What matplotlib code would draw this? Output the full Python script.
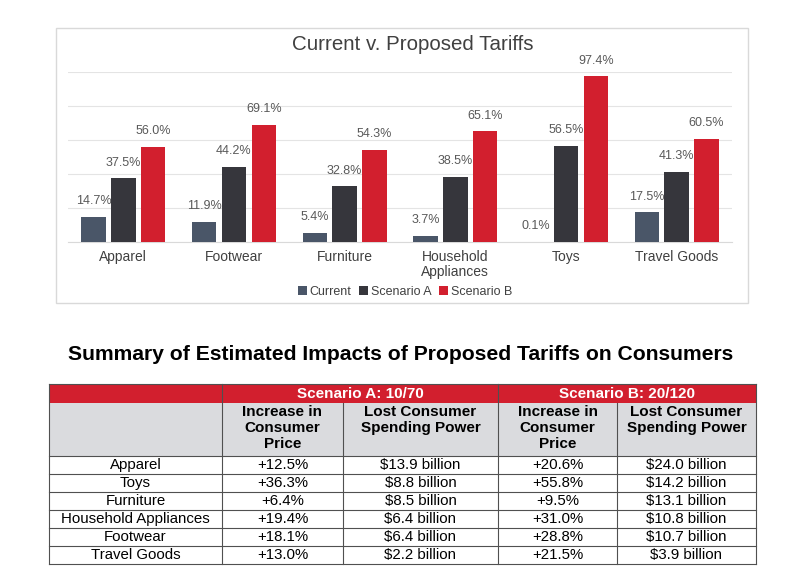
import numpy as np
import matplotlib
matplotlib.use('Agg')
from matplotlib import pyplot as plt
from matplotlib.patches import Rectangle

plt.rcParams['font.family'] = ['Liberation Sans', 'DejaVu Sans']

# chart data
categories = ['Apparel', 'Footwear', 'Furniture', 'Household\nAppliances', 'Toys', 'Travel Goods']
seriesNames = ['Current', 'Scenario A', 'Scenario B']
current = [14.7, 11.9, 5.4, 3.7, 0.1, 17.5]
scenarioA = [37.5, 44.2, 32.8, 38.5, 56.5, 41.3]
scenarioB = [56.0, 69.1, 54.3, 65.1, 97.4, 60.5]

# table data
tableTitle = 'Summary of Estimated Impacts of Proposed Tariffs on Consumers'
scenarioHeaders = ['Scenario A: 10/70', 'Scenario B: 20/120']
columnHeaders = ['Increase in\nConsumer\nPrice', 'Lost Consumer\nSpending Power',
                 'Increase in\nConsumer\nPrice', 'Lost Consumer\nSpending Power']
rowLabels = ['Apparel', 'Toys', 'Furniture', 'Household Appliances', 'Footwear', 'Travel Goods']
priceA = ['+12.5%', '+36.3%', '+6.4%', '+19.4%', '+18.1%', '+13.0%']
spendA = ['$13.9 billion', '$8.8 billion', '$8.5 billion', '$6.4 billion', '$6.4 billion', '$2.2 billion']
priceB = ['+20.6%', '+55.8%', '+9.5%', '+31.0%', '+28.8%', '+21.5%']
spendB = ['$24.0 billion', '$14.2 billion', '$13.1 billion', '$10.8 billion', '$10.7 billion', '$3.9 billion']

COLORS = ['#4A5668', '#36363C', '#D21F2E']
RED = '#D21F2E'
W, H = 800, 586

fig = plt.figure(figsize=(W / 100, H / 100), dpi=100)

def figRect(x0, y0, x1, y1):
    # pixel box (top-left origin) -> figure fraction
    return [x0 / W, 1 - y1 / H, (x1 - x0) / W, (y1 - y0) / H]

# ---- bar chart ----
fig.patches.append(Rectangle((56 / W, 1 - 303 / H), (748 - 56) / W, (303 - 28) / H,
                             transform=fig.transFigure, fill=False, edgecolor='#D9D9D9', lw=1))

ax = fig.add_axes(figRect(68, 72, 732, 242))
x = np.arange(len(categories))
offset, barWidth = 0.27, 0.22
bars = []
for i, values in enumerate([current, scenarioA, scenarioB]):
    b = ax.bar(x + (i - 1) * offset, values, barWidth, color=COLORS[i], label=seriesNames[i], zorder=3)
    bars.append(b)
    for xi, v in zip(x + (i - 1) * offset, values):
        ax.annotate(f'{v:.1f}%', (xi, v), xytext=(0, 7), textcoords='offset points',
                    ha='center', va='bottom', fontsize=9, color='#595959')

ax.set_xlim(-0.5, len(categories) - 0.5)
ax.set_ylim(0, 100)
ax.set_yticks(range(0, 101, 20))
ax.yaxis.grid(True, color='#E4E4E4', lw=0.8, zorder=0)
ax.tick_params(axis='y', left=False, labelleft=False)
ax.tick_params(axis='x', length=0, pad=6, labelsize=10, labelcolor='#404040')
ax.set_xticks(x, categories, linespacing=1.1, va='top')
for s in ['top', 'right', 'left']:
    ax.spines[s].set_visible(False)
ax.spines['bottom'].set_color('#D9D9D9')

fig.text(413 / W, 1 - 44 / H, 'Current v. Proposed Tariffs', ha='center', va='center',
         fontsize=14.8, color='#404040')
fig.legend(handles=bars, loc='center', bbox_to_anchor=(405 / W, 1 - 292 / H), ncol=3,
           frameon=False, fontsize=9, handlelength=0.7, handleheight=0.7,
           handletextpad=0.25, columnspacing=0.6, labelcolor='#404040')

# ---- summary table ----
fig.text(401 / W, 1 - 355 / H, tableTitle, ha='center', va='center',
         fontsize=15.2, fontweight='bold', color='black')

tx0, ty0, tx1, ty1 = 49, 384, 756, 564
tab = fig.add_axes(figRect(tx0, ty0, tx1, ty1))
tab.set_xlim(0, tx1 - tx0)
tab.set_ylim(ty1 - ty0, 0)
tab.axis('off')

colEdges = [0, 173, 294, 449, 568, 707]
redH, grayH, rowH = 19, 53, 18
dataTop = redH + grayH

tab.add_patch(Rectangle((0, 0), colEdges[-1], redH, color=RED, lw=0))
tab.add_patch(Rectangle((0, redH), colEdges[-1], grayH, color='#DADBDE', lw=0))

for k, text in enumerate(scenarioHeaders):
    cx = (colEdges[1 + 2 * k] + colEdges[3 + 2 * k]) / 2
    tab.text(cx, redH / 2 + 0.5, text, ha='center', va='center', color='white',
             fontsize=11, fontweight='bold')
for j, text in enumerate(columnHeaders):
    cx = (colEdges[j + 1] + colEdges[j + 2]) / 2
    tab.text(cx, redH + 1.5, text, ha='center', va='top', fontsize=11,
             fontweight='bold', linespacing=1.22)

columns = [rowLabels, priceA, spendA, priceB, spendB]
for r in range(len(rowLabels)):
    cy = dataTop + rowH * (r + 0.5)
    for j, col in enumerate(columns):
        cx = (colEdges[j] + colEdges[j + 1]) / 2
        tab.text(cx, cy + 4, col[r], ha='center', va='baseline', fontsize=10.8)

lineColor = '#505050'
for r in range(len(rowLabels) + 1):
    tab.plot([0, colEdges[-1]], [dataTop + rowH * r] * 2, color=lineColor, lw=0.8, clip_on=False)
tab.plot([0, colEdges[-1]], [0, 0], color=lineColor, lw=0.8, clip_on=False)
for j, xe in enumerate(colEdges):
    top = 0 if j in (0, 1, 3, 5) else redH
    tab.plot([xe, xe], [top, ty1 - ty0], color=lineColor, lw=0.8, clip_on=False)

fig.savefig('out.png', dpi=100)
